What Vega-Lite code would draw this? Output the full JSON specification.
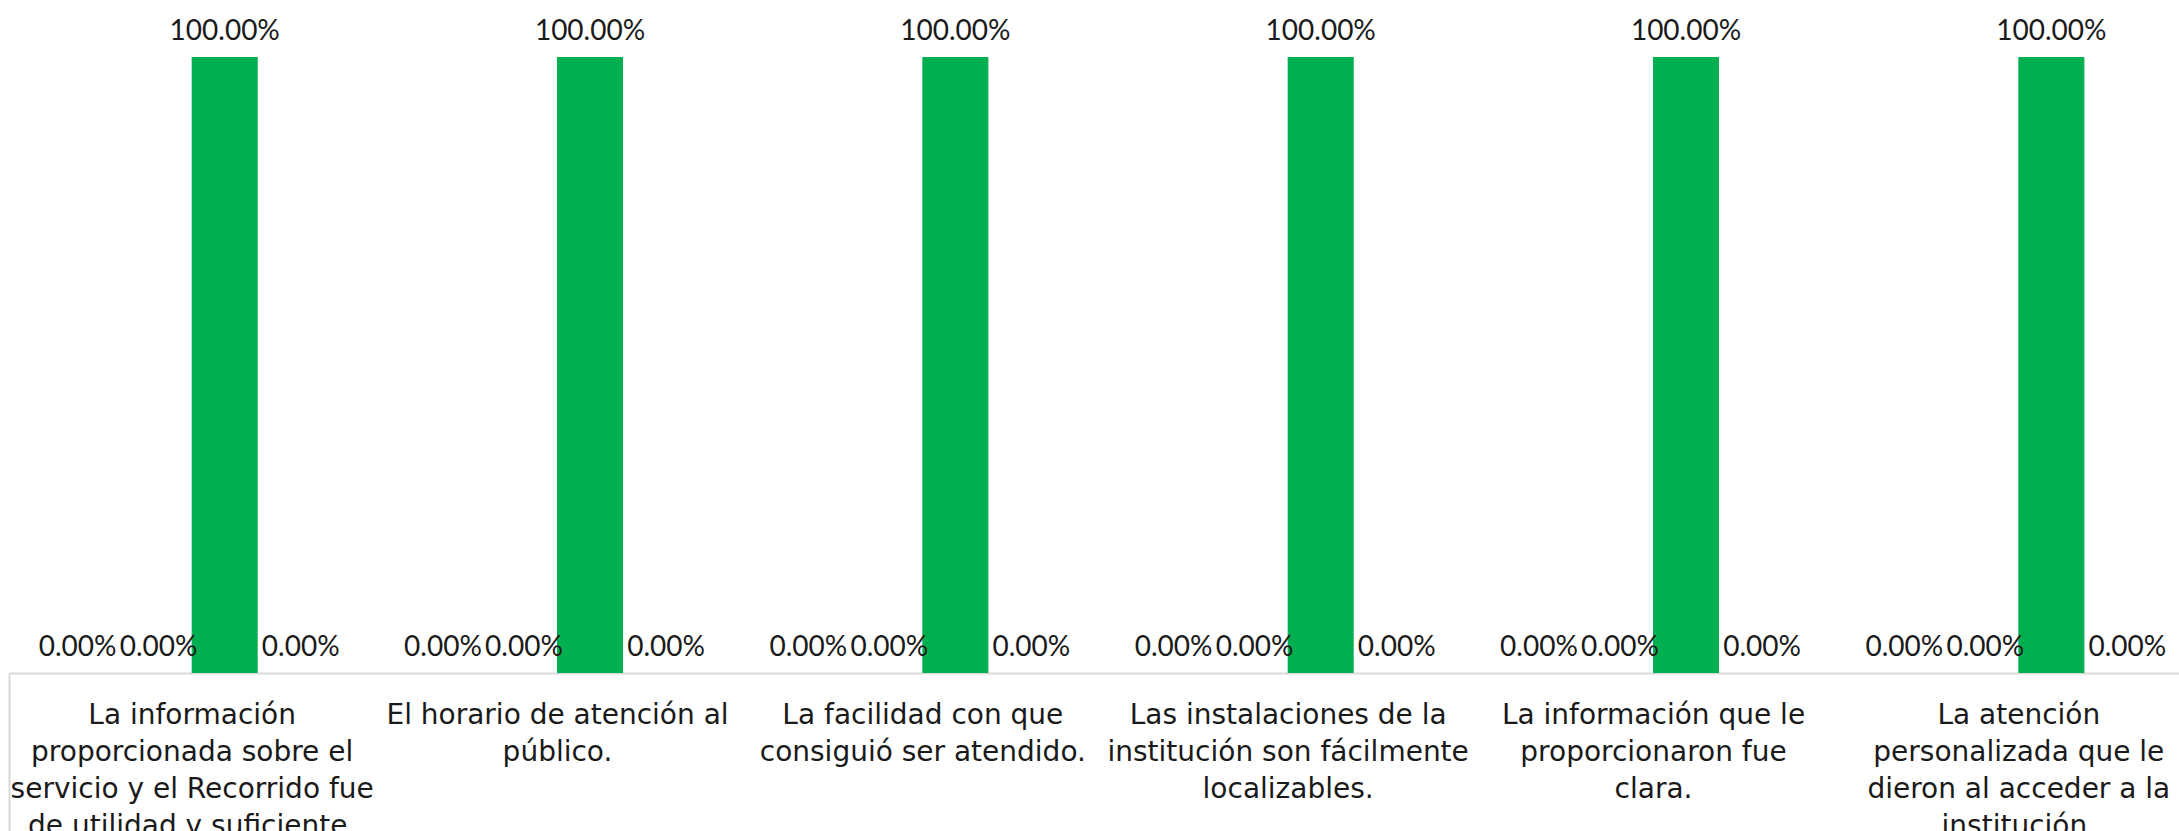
{
  "$schema": "https://vega.github.io/schema/vega-lite/v6.json",
  "autosize": "none",
  "padding": {"left": 9, "top": 57, "right": 0, "bottom": 158},
  "width": 2170,
  "height": 616,
  "background": "white",
  "config": {"view": {"stroke": null}, "font": "Lato"},
  "data": {"values": [
    {"pregunta": "La información\nproporcionada sobre el\nservicio y el Recorrido fue\nde utilidad y suficiente.", "serie": "Totalmente en desacuerdo", "orden": 1, "valor": 0},
    {"pregunta": "La información\nproporcionada sobre el\nservicio y el Recorrido fue\nde utilidad y suficiente.", "serie": "En desacuerdo", "orden": 2, "valor": 0},
    {"pregunta": "La información\nproporcionada sobre el\nservicio y el Recorrido fue\nde utilidad y suficiente.", "serie": "De acuerdo", "orden": 3, "valor": 1},
    {"pregunta": "La información\nproporcionada sobre el\nservicio y el Recorrido fue\nde utilidad y suficiente.", "serie": "Totalmente de acuerdo", "orden": 4, "valor": 0},
    {"pregunta": "El horario de atención al\npúblico.", "serie": "Totalmente en desacuerdo", "orden": 1, "valor": 0},
    {"pregunta": "El horario de atención al\npúblico.", "serie": "En desacuerdo", "orden": 2, "valor": 0},
    {"pregunta": "El horario de atención al\npúblico.", "serie": "De acuerdo", "orden": 3, "valor": 1},
    {"pregunta": "El horario de atención al\npúblico.", "serie": "Totalmente de acuerdo", "orden": 4, "valor": 0},
    {"pregunta": "La facilidad con que\nconsiguió ser atendido.", "serie": "Totalmente en desacuerdo", "orden": 1, "valor": 0},
    {"pregunta": "La facilidad con que\nconsiguió ser atendido.", "serie": "En desacuerdo", "orden": 2, "valor": 0},
    {"pregunta": "La facilidad con que\nconsiguió ser atendido.", "serie": "De acuerdo", "orden": 3, "valor": 1},
    {"pregunta": "La facilidad con que\nconsiguió ser atendido.", "serie": "Totalmente de acuerdo", "orden": 4, "valor": 0},
    {"pregunta": "Las instalaciones de la\ninstitución son fácilmente\nlocalizables.", "serie": "Totalmente en desacuerdo", "orden": 1, "valor": 0},
    {"pregunta": "Las instalaciones de la\ninstitución son fácilmente\nlocalizables.", "serie": "En desacuerdo", "orden": 2, "valor": 0},
    {"pregunta": "Las instalaciones de la\ninstitución son fácilmente\nlocalizables.", "serie": "De acuerdo", "orden": 3, "valor": 1},
    {"pregunta": "Las instalaciones de la\ninstitución son fácilmente\nlocalizables.", "serie": "Totalmente de acuerdo", "orden": 4, "valor": 0},
    {"pregunta": "La información que le\nproporcionaron fue\nclara.", "serie": "Totalmente en desacuerdo", "orden": 1, "valor": 0},
    {"pregunta": "La información que le\nproporcionaron fue\nclara.", "serie": "En desacuerdo", "orden": 2, "valor": 0},
    {"pregunta": "La información que le\nproporcionaron fue\nclara.", "serie": "De acuerdo", "orden": 3, "valor": 1},
    {"pregunta": "La información que le\nproporcionaron fue\nclara.", "serie": "Totalmente de acuerdo", "orden": 4, "valor": 0},
    {"pregunta": "La atención\npersonalizada que le\ndieron al acceder a la\ninstitución.", "serie": "Totalmente en desacuerdo", "orden": 1, "valor": 0},
    {"pregunta": "La atención\npersonalizada que le\ndieron al acceder a la\ninstitución.", "serie": "En desacuerdo", "orden": 2, "valor": 0},
    {"pregunta": "La atención\npersonalizada que le\ndieron al acceder a la\ninstitución.", "serie": "De acuerdo", "orden": 3, "valor": 1},
    {"pregunta": "La atención\npersonalizada que le\ndieron al acceder a la\ninstitución.", "serie": "Totalmente de acuerdo", "orden": 4, "valor": 0}
  ]},
  "encoding": {
    "x": {
      "field": "pregunta", "type": "nominal", "sort": null,
      "scale": {"paddingInner": 0.277, "paddingOuter": 0.1385, "range": [0, 2192]},
      "axis": {
        "title": null, "labelAngle": 0,
        "domainColor": "#D9D9D9", "domainWidth": 2,
        "ticks": true, "bandPosition": 0, "tickSize": 160, "tickColor": "#D9D9D9", "tickWidth": 2, "tickOffset": -50.6,
        "tickOpacity": {"condition": {"test": "datum.index == 0", "value": 1}, "value": 0},
        "labelExpr": "split(datum.label, '\\n')",
        "labelFont": "DejaVu Sans", "labelFontSize": 28, "labelColor": "#1a1a1a",
        "labelLineHeight": 37, "labelPadding": -132, "labelOffset": 50.6, "labelLimit": 0, "labelBaseline": "top",
        "labelAlign": "center", "labelOverlap": false
      }
    },
    "xOffset": {"field": "orden", "type": "ordinal", "scale": {"paddingInner": 0, "paddingOuter": 0}},
    "y": {"field": "valor", "type": "quantitative", "scale": {"domain": [0, 1]}, "axis": null}
  },
  "layer": [
    {
      "mark": {"type": "bar"},
      "encoding": {
        "color": {"field": "serie", "type": "nominal", "sort": ["Totalmente en desacuerdo", "En desacuerdo", "De acuerdo", "Totalmente de acuerdo"],
          "scale": {"domain": ["Totalmente en desacuerdo", "En desacuerdo", "De acuerdo", "Totalmente de acuerdo"], "range": ["#C00000", "#FFC000", "#00B050", "#0070C0"]},
          "legend": null}
      }
    },
    {
      "transform": [{"filter": "datum.orden == 1"}],
      "mark": {"type": "text", "baseline": "alphabetic", "dy": -17, "dx": -15, "fontSize": 28, "font": "Lato", "color": "#1a1a1a"},
      "encoding": {"text": {"field": "valor", "type": "quantitative", "format": ".2%"}}
    },
    {
      "transform": [{"filter": "datum.orden == 2 || datum.orden == 3"}],
      "mark": {"type": "text", "baseline": "alphabetic", "dy": -17, "dx": 0, "fontSize": 28, "font": "Lato", "color": "#1a1a1a"},
      "encoding": {"text": {"field": "valor", "type": "quantitative", "format": ".2%"}}
    },
    {
      "transform": [{"filter": "datum.orden == 4"}],
      "mark": {"type": "text", "baseline": "alphabetic", "dy": -17, "dx": 10, "fontSize": 28, "font": "Lato", "color": "#1a1a1a"},
      "encoding": {"text": {"field": "valor", "type": "quantitative", "format": ".2%"}}
    }
  ]
}
